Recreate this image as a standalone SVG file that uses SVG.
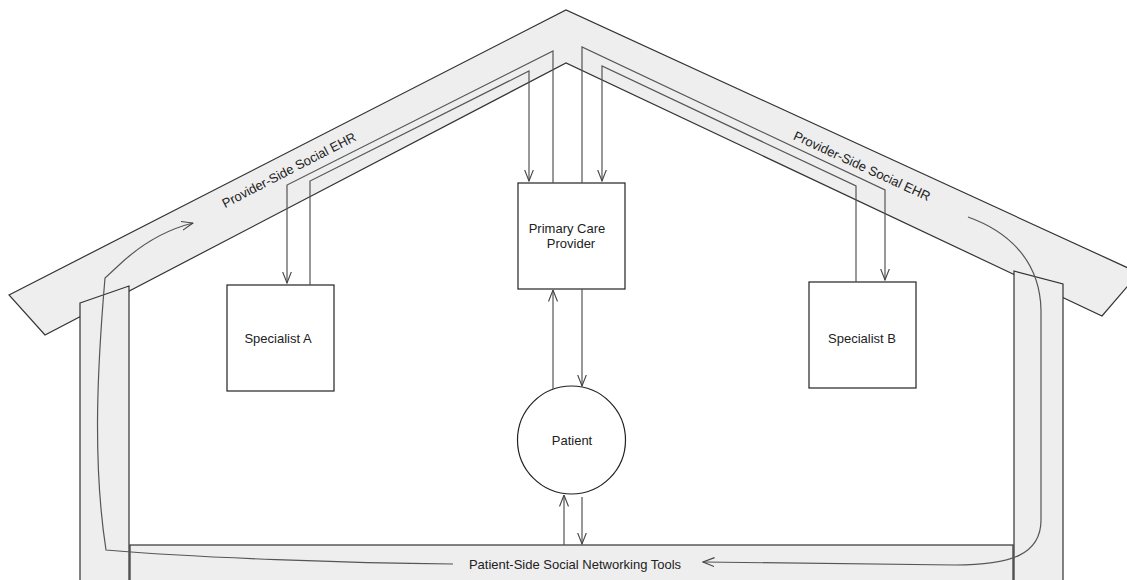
<svg xmlns="http://www.w3.org/2000/svg" width="1127" height="580" viewBox="0 0 1127 580">
<style>
.shape{fill:#eeeeee;stroke:#333333;stroke-width:1.2;stroke-linejoin:miter}
.box{fill:#ffffff;stroke:#222222;stroke-width:1.2}
.lbl{font-family:"Liberation Sans",Arial,sans-serif;font-size:13px;fill:#222222;text-anchor:middle}
.con{fill:none;stroke:#555555;stroke-width:1.2}
</style>
<defs>
<marker id="arr" viewBox="0 0 12 10" refX="11.5" refY="5" markerWidth="12" markerHeight="10" markerUnits="userSpaceOnUse" orient="auto">
<path d="M0,0.5 L11.5,5 L0,9.5" fill="none" stroke="#444444" stroke-width="1.1"/>
</marker>
</defs>
<rect width="1127" height="580" fill="#ffffff"/>
<g id="house">
<polygon class="shape" points="9,295 566,10 1139,273 1102,316 566,63 45,335"/>
<polygon class="shape" points="80,303 129,286 129,590 80,590"/>
<polygon class="shape" points="1014,271 1063,284 1063,590 1014,590"/>
<rect class="shape" x="130" y="545" width="883" height="50"/>
<text class="lbl" transform="translate(289,170) rotate(-27.3)" y="4.5">Provider-Side Social EHR</text>
<text class="lbl" transform="translate(862,166) rotate(24.7)" y="4.5">Provider-Side Social EHR</text>
<text class="lbl" x="575" y="568.5">Patient-Side Social Networking Tools</text>
</g>
<g id="specialist-a">
<rect class="box" x="227" y="285" width="107" height="106"/>
<text class="lbl" x="278" y="342.5">Specialist A</text>
</g>
<g id="primary-care">
<rect class="box" x="518" y="183" width="107" height="106"/>
<text class="lbl" x="567" y="233">Primary Care</text>
<text class="lbl" x="571" y="248">Provider</text>
</g>
<g id="specialist-b">
<rect class="box" x="809" y="282" width="107" height="106"/>
<text class="lbl" x="862" y="342.5">Specialist B</text>
</g>
<g id="patient">
<circle class="box" cx="571.5" cy="440" r="54"/>
<text class="lbl" x="572" y="444.5">Patient</text>
</g>
<g id="connectors">
<path class="con" d="M553,183 L553,51 L287,185 L287,283" marker-end="url(#arr)"/>
<path class="con" d="M310,285 L310,181 L529,71 L529,181" marker-end="url(#arr)"/>
<path class="con" d="M582,183 L582,47 L885,190 L885,280" marker-end="url(#arr)"/>
<path class="con" d="M856,282 L856,186 L602,66 L602,181" marker-end="url(#arr)"/>
<path class="con" d="M553,389 L553,290" marker-end="url(#arr)"/>
<path class="con" d="M582,289 L582,386" marker-end="url(#arr)"/>
<path class="con" d="M564,545 L564,495" marker-end="url(#arr)"/>
<path class="con" d="M582,497 L582,544" marker-end="url(#arr)"/>
<path class="con" d="M453,564 C350,563 200,558 106,550 C92,460 98,360 105,278 L118,266 C140,245 165,230 193,223" marker-end="url(#arr)"/>
<path class="con" d="M968,217 C1010,232 1040,262 1041,310 L1041,520 C1041,555 1010,565 955,565 L703,562" marker-end="url(#arr)"/>
</g>
</svg>
